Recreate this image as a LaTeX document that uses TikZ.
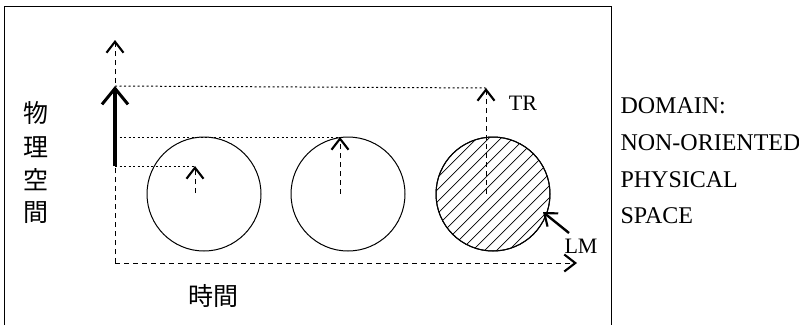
\documentclass[tikz,border=0pt]{standalone}
\usepackage{fontspec}
\setmainfont{Liberation Serif}
\newfontfamily\cjk{Noto Sans CJK JP}
\usetikzlibrary{arrows.meta}

\begin{document}
\begin{tikzpicture}[x=1pt,y=-1pt,line width=1pt]
\tikzset{
  barb/.style={-{Straight Barb[length=11pt,width=17pt,line width=2.1pt]}},
  axis/.style={dash pattern=on 5pt off 4pt,barb},
  guide/.style={dash pattern=on 2pt off 2.5pt},
  disc/.style={draw,circle,minimum size=114pt,inner sep=0pt},
  lbl/.style={font=\fontsize{22}{26}\selectfont,inner sep=0pt},
  dom/.style={font=\fontsize{24}{28}\selectfont,inner sep=0pt,anchor=base west},
  kanji/.style={font=\cjk\fontsize{25}{30}\selectfont,inner sep=0pt}
}
\useasboundingbox (0,0) rectangle (799,325);
% frame, open at the bottom
\draw (4,325) -- (4,6) -- (611,6) -- (611,325);

% axes
\coordinate (o) at (115,263);
\coordinate (ytip) at (115,40);
\coordinate (xtip) at (577,263);
\draw[axis] (o) -- (ytip);
\draw[axis] (o) -- (xtip);

% the three regions
\node[disc] (c1) at (204,194) {};
\node[disc] (c2) at (348,194) {};
\node[disc] (c3) at (493,194) {};
\begin{scope}
\clip (c3.center) circle (57);
\foreach \k in {-8,...,8}
  \draw[line width=0.7pt,shift={(493,194)}] (\k*12-80,80) -- (\k*12+80,-80);
\end{scope}
\draw (c3) circle (57);

% trajectors
\coordinate (b1) at (195,193);
\coordinate (t1) at (195,166);
\coordinate (b2) at (340,194);
\coordinate (t2) at (340,137);
\coordinate (b3) at (486,194);
\coordinate (t3) at (486,88);
\draw[axis] (b1) -- (t1);
\draw[axis] (b2) -- (t2);
\draw[axis] (b3) -- (t3);

% projection onto the space axis
\coordinate (s0) at (115,166);
\coordinate (s1) at (115,86);
\coordinate (s2) at (115,137);
\draw[guide] (s0) -- (t1);
\draw[guide] (s2) -- (t2);
\draw[guide] (s1) -- (t3);
\draw[line width=3.5pt,-{Straight Barb[length=16pt,width=26pt,line width=3pt]}] (s0) -- (s1);

% labels
\node[lbl] (tr) at (523,103) {TR};
\node[lbl] (lm) at (581,246) {LM};
\coordinate (lmfoot) at (569,233);
\coordinate (lmhead) at (543,212);
\draw[barb,line width=2.4pt] (lmfoot) -- (lmhead);

\node[kanji] (k1) at (36,113) {物};
\node[kanji] (k2) at (36,147) {理};
\node[kanji] (k3) at (36,180) {空};
\node[kanji] (k4) at (36,213) {間};
\node[kanji] (time) at (213,296) {時間};

\node[dom] (d1) at (620,113) {DOMAIN:};
\node[dom] (d2) at (620,150) {NON-ORIENTED};
\node[dom] (d3) at (620,187) {PHYSICAL};
\node[dom] (d4) at (620,223) {SPACE};
\end{tikzpicture}
\end{document}
